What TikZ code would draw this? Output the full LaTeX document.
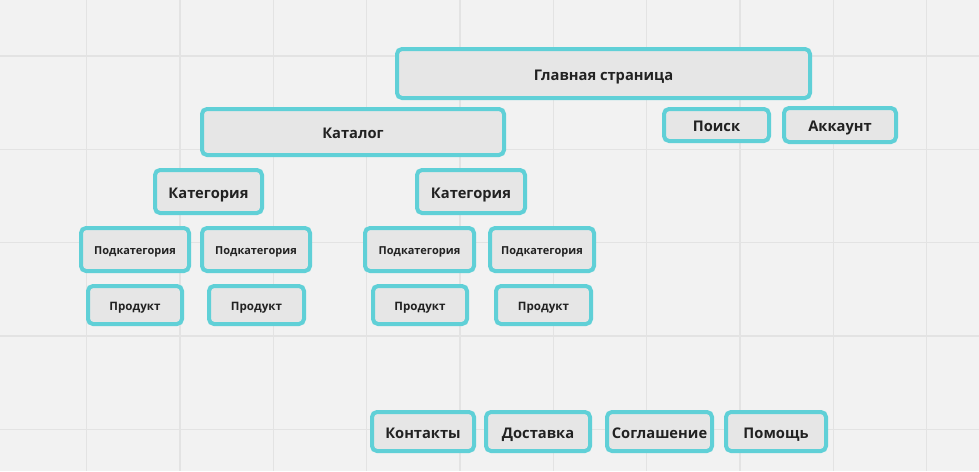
\documentclass[tikz,border=0pt]{standalone}
\usepackage{fontspec}
\setmainfont{Open Sans}
\definecolor{bgc}{HTML}{F2F2F2}
\definecolor{gridc}{HTML}{E3E3E3}
\definecolor{boxfill}{HTML}{E6E6E6}
\definecolor{boxline}{HTML}{60D0D7}
\definecolor{txt}{HTML}{222222}
\tikzset{
  card/.style={draw=boxline, fill=boxfill, line width=4pt, rounded corners=5pt,
    inner sep=0pt, text=txt, text height=13.3pt, text depth=0pt,
    font=\bfseries\fontsize{14.7}{16}\selectfont},
  small/.style={font=\bfseries\fontsize{11}{13}\selectfont, text height=10.5pt},
  prodfont/.style={font=\bfseries\fontsize{11.6}{13}\selectfont, text height=10.9pt},
}
\newcommand{\cardbox}[7][]{%
  \node[card,#1,minimum width={#4-4pt},minimum height={#5-4pt}] (#2) at (#3) {#6#7};}
\begin{document}
\begin{tikzpicture}[x=1pt,y=-1pt]
\fill[bgc] (0,0) rectangle (979,471);
\useasboundingbox (0,0) rectangle (979,471);
\foreach \k in {0,...,9} \draw[gridc, line width=1.1pt] ({86.7+93.33*\k},0) -- ({86.7+93.33*\k},471);
\foreach \k in {0,...,4} \draw[gridc, line width=1.1pt] (0,{56+93.33*\k}) -- (979,{56+93.33*\k});
\cardbox{main}{603.5,73.5}{417}{53}{}{Главная страница}
\cardbox{katalog}{353,132}{306}{50}{}{Каталог}
\cardbox{poisk}{716.5,125}{109}{36}{}{Поиск}
\cardbox{akk}{840,125}{116}{38}{}{Аккаунт}
\cardbox{kat1}{208.5,191.5}{111}{47}{}{Категория}
\cardbox{kat2}{471,191.5}{112}{47}{}{Категория}
\cardbox[small]{pod1}{135,249.5}{112}{47}{}{Подкатегория}
\cardbox[small]{pod2}{256,249.5}{112}{47}{}{Подкатегория}
\cardbox[small]{pod3}{419.5,249.5}{113}{47}{}{Подкатегория}
\cardbox[small]{pod4}{542,249.5}{108}{47}{}{Подкатегория}
\cardbox[prodfont]{prod1}{135,305}{98}{42}{}{Продукт}
\cardbox[prodfont]{prod2}{256.5,305}{99}{42}{}{Продукт}
\cardbox[prodfont]{prod3}{420,305}{98}{42}{}{Продукт}
\cardbox[prodfont]{prod4}{543.5,305}{99}{42}{}{Продукт}
\cardbox{kont}{423,431.5}{106}{43}{}{Контакты}
\cardbox{dost}{538,431.5}{108}{43}{}{Доставка}
\cardbox{sogl}{659.5,431.5}{109}{43}{}{Соглашение}
\cardbox{pom}{776,431.5}{104}{43}{}{Помощь}
\end{tikzpicture}
\end{document}
